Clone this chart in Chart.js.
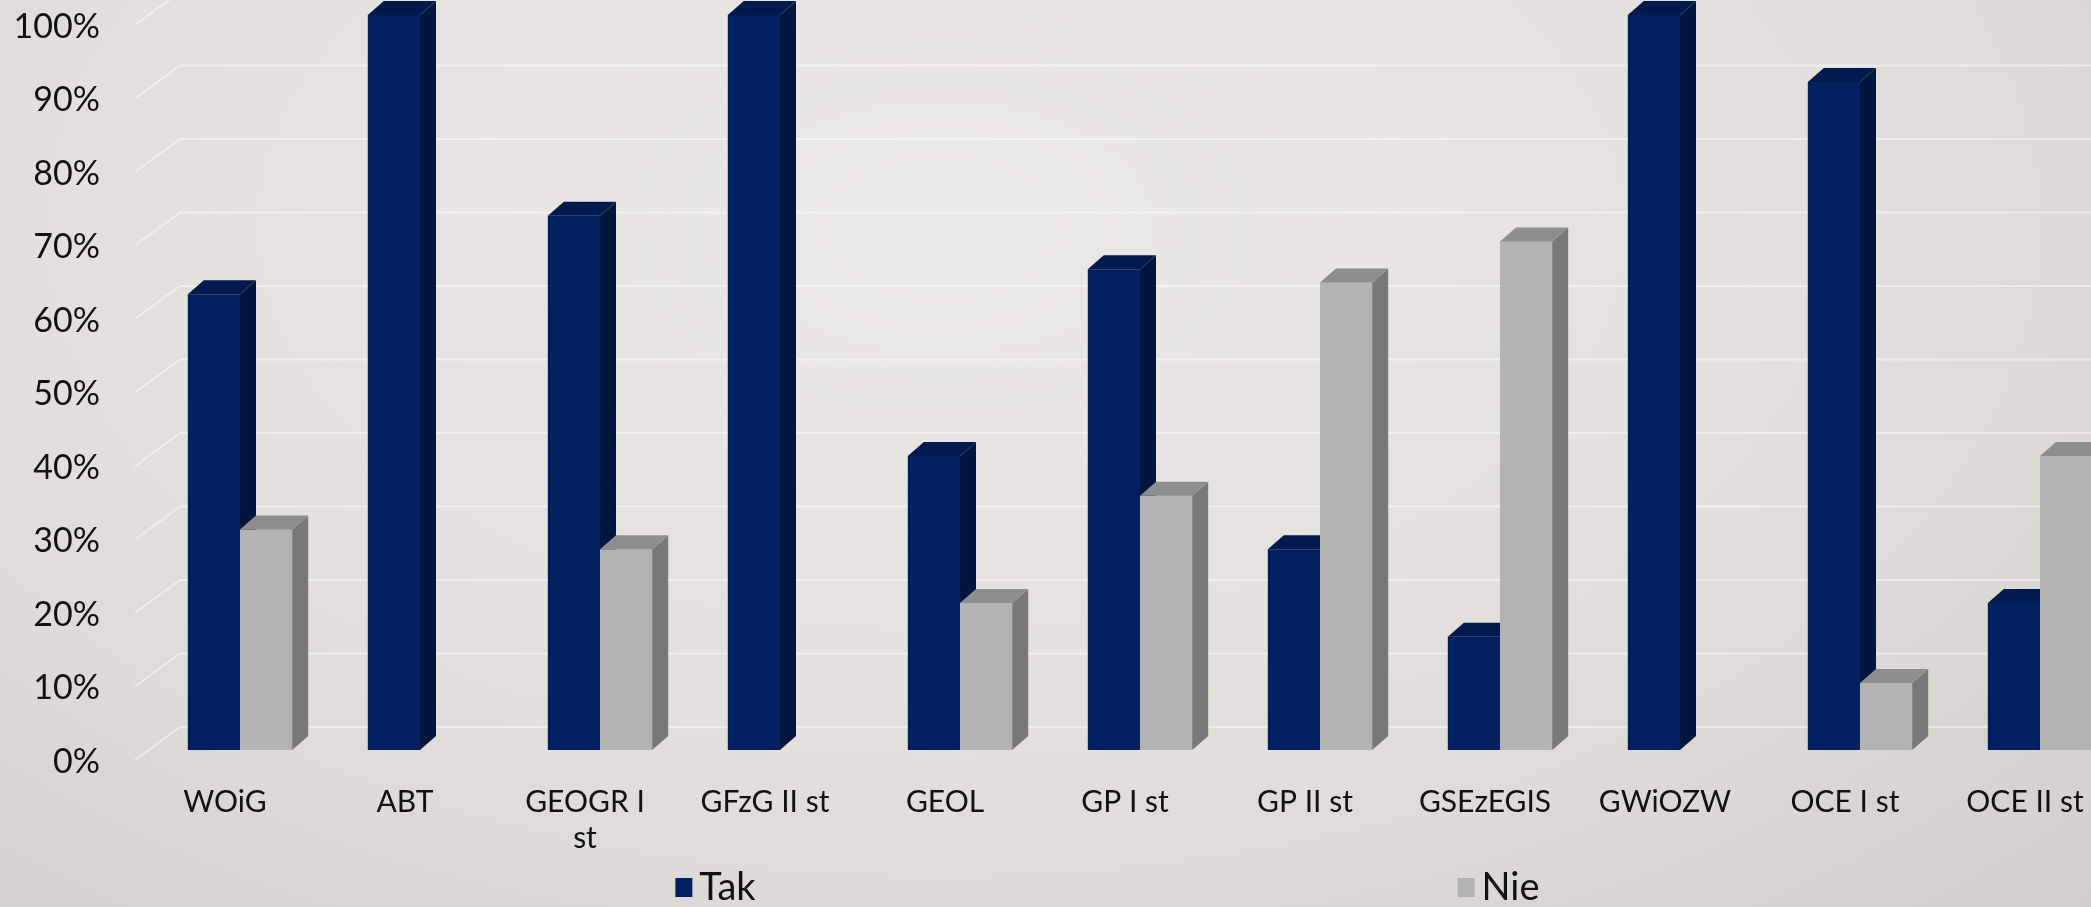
<!DOCTYPE html>
<html>
<head>
<meta charset="utf-8">
<script src="https://cdn.jsdelivr.net/npm/chart.js@4/dist/chart.umd.min.js"></script>
<style>
    html, body {
        margin: 0;
        padding: 0;
        overflow: hidden;
        width: 2091px;
        height: 907px;
        background: radial-gradient(ellipse at 45% 25%, #ebe9e6 0%, #e3e0dc 55%, #d2cec9 100%);
    }
    #wrap {
        position: absolute;
        left: 0;
        top: 0;
        width: 2214px;
        height: 907px;
    }
</style>
</head>
<body>
<div id="wrap"><canvas id="chart_output"></canvas></div>
<script>
// values (share of answers, %)
const categories = ["WOiG", "ABT", ["GEOGR I", "st"], "GFzG II st", "GEOL", "GP I st",
    "GP II st", "GSEzEGIS", "GWiOZW", "OCE I st", "OCE II st"];
const seriesNames = ["Tak", "Nie"];
const takValues = [62, 100, 72.7, 100, 40, 65.4, 27.3, 15.4, 100, 90.9, 20];
const nieValues = [30, 0, 27.3, 0, 20, 34.6, 63.6, 69.2, 0, 9.1, 40];
const yTickStep = 10;

const FONT = "Lato, 'Open Sans', sans-serif";
const DEPTH_X = 16;
const DEPTH_Y = 14;

// front, side and top colours of each series
const faceColors = [
    {front: "#00205f", side: "#00163f", top: "#001a4e"},
    {front: "#b3b3b3", side: "#787878", top: "#8e8e8e"}
];

const backWallGrid = {
    /**
     * Draws the grid on the "back wall": a short diagonal from the
     * tick label going back, then a horizontal line to the right edge.
     */
    id: "backWallGrid",
    beforeDatasetsDraw(chart) {
        const ctx = chart.ctx;
        const yScale = chart.scales.y;
        const left = chart.chartArea.left;
        ctx.save();
        ctx.strokeStyle = "rgba(255,255,255,0.45)";
        ctx.lineWidth = 2;
        yScale.ticks.forEach(t => {
            const y = yScale.getPixelForValue(t.value);
            ctx.beginPath();
            ctx.moveTo(left - 15, y + 10);
            ctx.lineTo(left + 30, y - 23);
            ctx.lineTo(chart.width, y - 23);
            ctx.stroke();
        });
        ctx.restore();
    }
};

function drawFaces(ctx, meta, colors) {
    meta.data.forEach(bar => {
        const p = bar.getProps(["x", "y", "base", "width"], true);
        if (Math.abs(p.base - p.y) < 1) {
            return;
        }
        const l = p.x - p.width / 2;
        const r = p.x + p.width / 2;
        ctx.fillStyle = colors.side;
        ctx.beginPath();
        ctx.moveTo(r, p.y);
        ctx.lineTo(r + DEPTH_X, p.y - DEPTH_Y);
        ctx.lineTo(r + DEPTH_X, p.base - DEPTH_Y);
        ctx.lineTo(r, p.base);
        ctx.closePath();
        ctx.fill();
        ctx.fillStyle = colors.top;
        ctx.beginPath();
        ctx.moveTo(l, p.y);
        ctx.lineTo(l + DEPTH_X, p.y - DEPTH_Y);
        ctx.lineTo(r + DEPTH_X, p.y - DEPTH_Y);
        ctx.lineTo(r, p.y);
        ctx.closePath();
        ctx.fill();
    });
}

const barDepth = {
    /**
     * Adds the side and top faces to each bar so the columns look 3D.
     * The first series gets its faces first, then the second series is
     * drawn again over it so it hides the sides that sit behind it.
     */
    id: "barDepth",
    afterDatasetsDraw(chart) {
        const ctx = chart.ctx;
        ctx.save();
        chart.data.datasets.forEach((ds, i) => {
            const meta = chart.getDatasetMeta(i);
            if (i > 0) {
                meta.data.forEach(bar => bar.draw(ctx));
            }
            drawFaces(ctx, meta, faceColors[i]);
        });
        ctx.restore();
    }
};

const spreadLegend = {
    /**
     * Legend with the two entries spread wide apart under the axis.
     */
    id: "spreadLegend",
    afterDraw(chart) {
        const ctx = chart.ctx;
        const mid = chart.width / 2;
        const y = 887;
        ctx.save();
        ctx.font = "38px " + FONT;
        ctx.textBaseline = "middle";
        chart.data.datasets.forEach((ds, i) => {
            const textW = ctx.measureText(ds.label).width;
            const itemW = 18 + 6 + textW;
            const x0 = mid + (i - 0.5) * 783 - itemW / 2;
            ctx.fillStyle = ds.backgroundColor;
            ctx.fillRect(x0, y - 9, 17, 19);
            ctx.fillStyle = "#111";
            ctx.fillText(ds.label, x0 + 24, y + 1);
        });
        ctx.restore();
    }
};

const ctx = document.getElementById("chart_output").getContext("2d");

new Chart(ctx, {
    type: "bar",
    data: {
        labels: categories,
        datasets: [
            {label: seriesNames[0], data: takValues, backgroundColor: faceColors[0].front},
            {label: seriesNames[1], data: nieValues, backgroundColor: faceColors[1].front}
        ]
    },
    options: {
        responsive: true,
        maintainAspectRatio: false,
        animation: false,
        categoryPercentage: 0.58,
        barPercentage: 1.0,
        layout: {padding: {left: 0, right: 84, top: 15, bottom: 0}},
        plugins: {
            legend: {display: false},
            tooltip: {enabled: false}
        },
        scales: {
            x: {
                grid: {display: false, drawTicks: false},
                border: {display: false},
                ticks: {
                    color: "#111",
                    font: {family: FONT, size: 30, lineHeight: 1.2},
                    padding: 34,
                    labelOffset: -15,
                    maxRotation: 0,
                    autoSkip: false
                },
                afterFit(scale) {
                    scale.height = 157;
                    scale.paddingLeft = 0;
                    scale.paddingRight = 0;
                }
            },
            y: {
                min: 0,
                max: 100,
                grid: {display: false, drawTicks: false},
                border: {display: false},
                ticks: {
                    stepSize: yTickStep,
                    color: "#111",
                    font: {family: FONT, size: 34},
                    padding: 50,
                    labelOffset: 12,
                    callback: v => v + "%"
                },
                afterFit(scale) {
                    scale.width = 150;
                    scale.paddingTop = 0;
                    scale.paddingBottom = 0;
                }
            }
        }
    },
    plugins: [backWallGrid, barDepth, spreadLegend]
});
</script>
</body>
</html>
